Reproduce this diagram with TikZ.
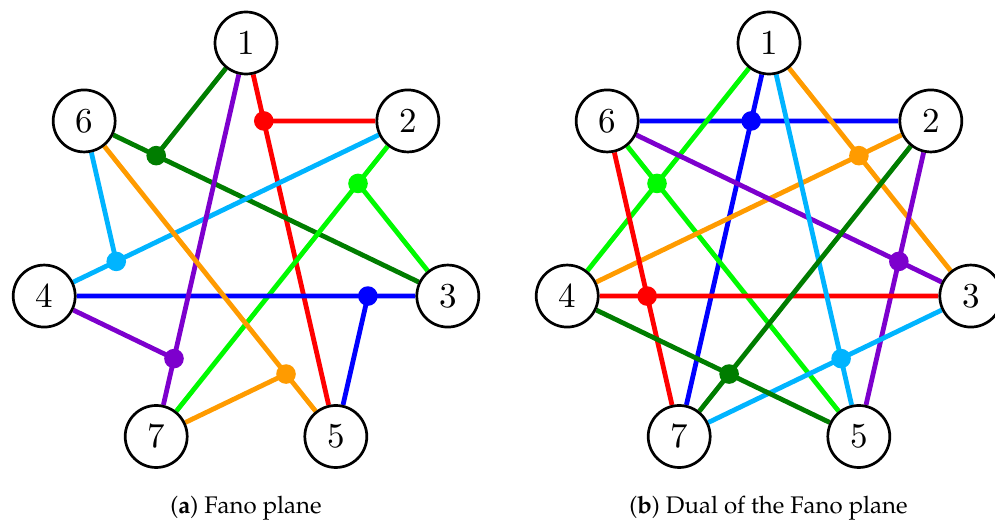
\documentclass[tikz,border=0pt]{standalone}
\usepackage[T1,TU]{fontenc}
\usepackage{fontspec}
\newfontfamily\digfont{lmroman10-regular.otf}
\usetikzlibrary{calc}
\pgfdeclarelayer{bg}
\pgfsetlayers{bg,main}
\definecolor{cred}{RGB}{255,0,0}
\definecolor{cdgreen}{RGB}{0,125,0}
\definecolor{clgreen}{RGB}{0,250,0}
\definecolor{csky}{RGB}{0,180,255}
\definecolor{cblue}{RGB}{0,0,255}
\definecolor{cpurple}{RGB}{125,0,205}
\definecolor{corange}{RGB}{255,155,0}
\newcommand{\capfont}{\fontencoding{T1}\fontfamily{ppl}\selectfont}
\tikzset{
  pt/.style={circle,draw=black,fill=white,line width=2.7pt,minimum size=62pt,inner sep=0pt,font=\digfont\fontsize{35}{40}\selectfont},
  ln/.style={line width=4.8pt},
  dotfill/.style={radius=9.8pt},
  capt/.style={anchor=base,font=\capfont\fontsize{24}{28}\selectfont}
}
\begin{document}
\begin{tikzpicture}[x=1pt,y=-1pt]
\useasboundingbox (0,0) rectangle (995,521);
% positions: label -> heptagon index
\foreach \lab/\k in {1/0,2/1,3/2,5/3,7/4,4/5,6/6}{
  \node[pt] (l\lab) at ({246+207*cos(90-\k*360/7)},{250-207*sin(90-\k*360/7)}) {\lab};
  \node[pt] (r\lab) at ({769+207*cos(90-\k*360/7)},{250-207*sin(90-\k*360/7)}) {\lab};
}
\begin{pgfonlayer}{bg}
% ---- Fano plane
\foreach \pa/\pb/\pc/\pd/\col in {1/5/2/6/cred, 6/3/1/4/cdgreen, 7/2/3/1/clgreen, 4/2/6/7/csky, 4/3/5/2/cblue, 1/7/4/5/cpurple, 6/5/7/3/corange}{
  \coordinate (d\pa\pb) at (intersection cs: first line={(l\pa.center)--(l\pb.center)}, second line={(l\pc.center)--(l\pd.center)});
  \draw[ln,\col] (l\pa) -- (l\pb);
  \draw[ln,\col] (d\pa\pb) -- (l\pc);
  \fill[\col] (d\pa\pb) circle[dotfill];
}
% ---- Dual
\foreach \pa/\pb/\pc/\pd/\col in {6/2/1/7/cblue, 1/4/6/5/clgreen, 1/3/4/2/corange, 6/3/2/5/cpurple, 4/3/6/7/cred, 1/5/7/3/csky, 2/7/4/5/cdgreen}{
  \coordinate (e\pa\pb) at (intersection cs: first line={(r\pa.center)--(r\pb.center)}, second line={(r\pc.center)--(r\pd.center)});
  \draw[ln,\col] (r\pa) -- (r\pb);
  \draw[ln,\col] (r\pc) -- (r\pd);
  \fill[\col] (e\pa\pb) circle[dotfill];
}
\end{pgfonlayer}
\node[capt] (capa) at (246,513) {(\textbf{a}) Fano plane};
\node[capt] (capb) at (768.5,513) {(\textbf{b}) Dual of the Fano plane};
\end{tikzpicture}
\end{document}
